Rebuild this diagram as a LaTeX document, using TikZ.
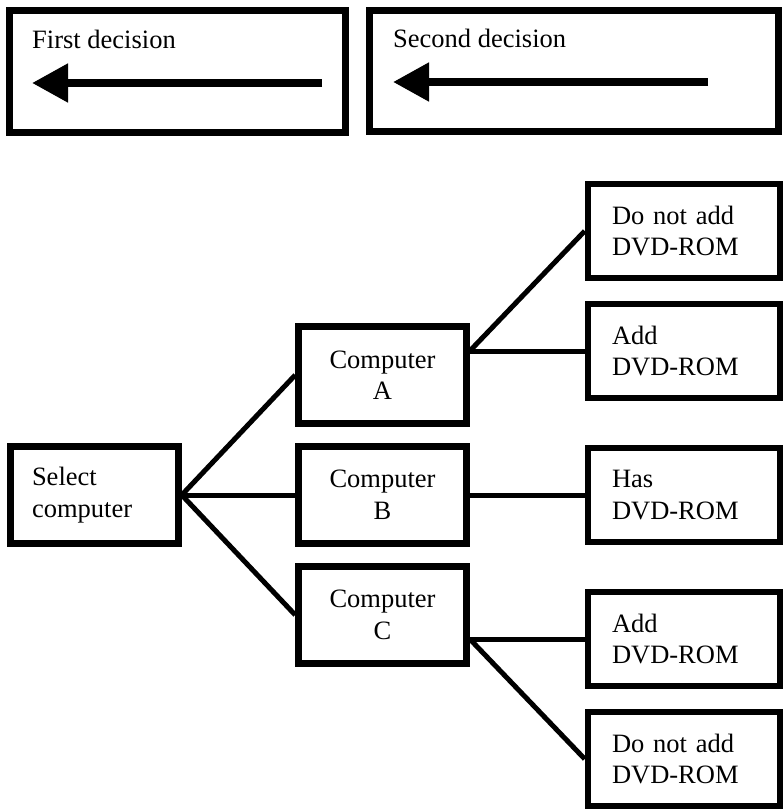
\documentclass[tikz,border=0pt]{standalone}
\usepackage{fontspec}
\setmainfont{Liberation Serif}
\usetikzlibrary{arrows.meta}
\begin{document}
\begin{tikzpicture}[x=1pt,y=-1pt,
  every node/.style={font=\fontsize{26.5pt}{31.5pt}\selectfont},
  frame/.style={draw, line width=7pt, inner sep=0pt},
  lbl/.style={inner sep=0pt, anchor=base west},
  bigarrow/.style={line width=8pt, -{Triangle[length=36pt,width=37pt]}},
  leftbox/.style={draw, line width=6.5pt, minimum width=168pt, minimum height=97pt,
    inner xsep=21.5pt, text width=125pt, align=left},
  midbox/.style={draw, line width=6.5pt, minimum width=168pt, minimum height=97pt,
    inner sep=0pt, align=center},
  rightbox/.style={draw, line width=6.5pt, minimum width=192pt, minimum height=94pt,
    inner xsep=24pt, text width=144pt, align=left},
  conn/.style={line width=5pt}]
  \useasboundingbox (0,0) rectangle (784,811);

  % legend boxes with their direction arrows
  \node[frame, minimum width=336pt, minimum height=122pt] (first) at (177,71) {};
  \node[lbl] (firstlbl) at (32,48) {First decision};
  \coordinate (f1s) at (322,83);
  \coordinate (f1e) at (32,83);
  \draw[bigarrow] (f1s) -- (f1e);

  \node[frame, minimum width=409pt, minimum height=121pt] (second) at (573.5,70.5) {};
  \node[lbl] (secondlbl) at (393,47) {Second decision};
  \coordinate (f2s) at (708,82);
  \coordinate (f2e) at (393,82);
  \draw[bigarrow] (f2s) -- (f2e);

  % decision tree
  \node[leftbox] (sel) at (94.5,495) {Select\\computer};
  \node[midbox] (A) at (382.5,375) {Computer\\A};
  \node[midbox] (B) at (382.5,495) {Computer\\B};
  \node[midbox] (C) at (382.5,615) {Computer\\C};

  \node[rightbox] (dnA)  at (684,231) {Do not add\\DVD-ROM};
  \node[rightbox] (addA) at (684,351) {Add\\DVD-ROM};
  \node[rightbox] (has)  at (684,495) {Has\\DVD-ROM};
  \node[rightbox] (addC) at (684,639) {Add\\DVD-ROM};
  \node[rightbox] (dnC)  at (684,759) {Do not add\\DVD-ROM};

  \draw[conn] (sel.east) -- (A.west);
  \draw[conn] (sel.east) -- (B.west);
  \draw[conn] (sel.east) -- (C.west);

  \draw[conn] (A.east |- addA.west) -- (dnA.west);
  \draw[conn] (A.east |- addA.west) -- (addA.west);
  \draw[conn] (B.east) -- (has.west);
  \draw[conn] (C.east |- addC.west) -- (addC.west);
  \draw[conn] (C.east |- addC.west) -- (dnC.west);
\end{tikzpicture}
\end{document}
